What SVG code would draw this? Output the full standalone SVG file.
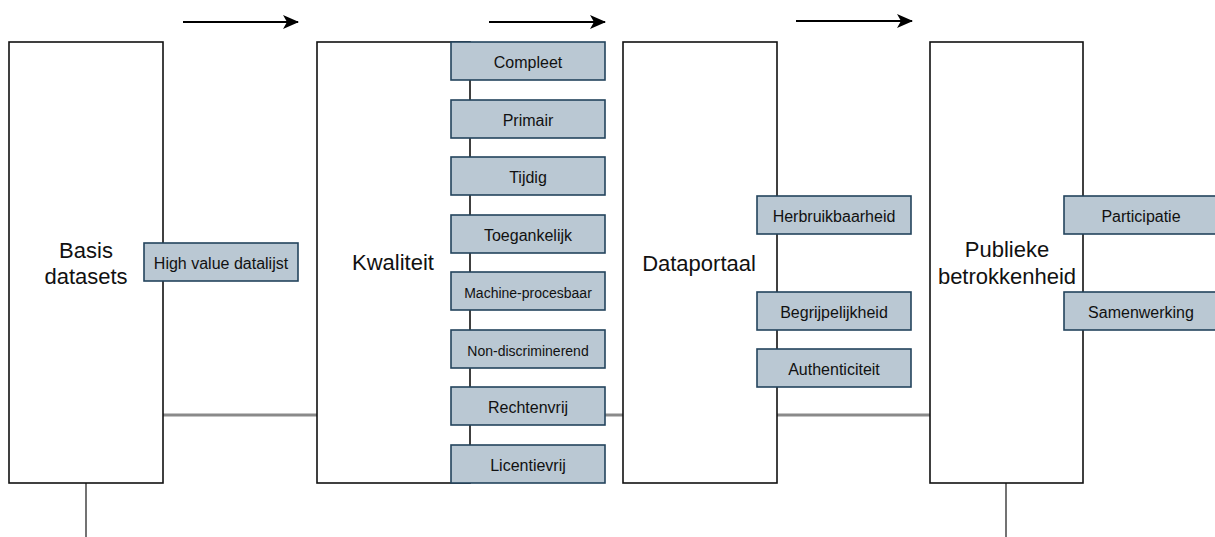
<svg xmlns="http://www.w3.org/2000/svg" width="1215" height="537" viewBox="0 0 1215 537">
<style>
.box{fill:#fff;stroke:#111;stroke-width:1.6}
.tag{fill:#bac8d3;stroke:#23445d;stroke-width:1.6}
.big{font-family:"Liberation Sans",Arial,sans-serif;font-size:22px;fill:#111;text-anchor:middle}
.t{font-family:"Liberation Sans",Arial,sans-serif;font-size:16px;fill:#111;text-anchor:middle}
.ts{font-family:"Liberation Sans",Arial,sans-serif;font-size:14px;fill:#111;text-anchor:middle}
.gray{stroke:#8a8a8a;stroke-width:3;fill:none}
.thin{stroke:#444;stroke-width:1.5;fill:none}
.arr{stroke:#000;stroke-width:2;fill:none}
</style>
<defs>
<marker id="ah" markerWidth="16" markerHeight="14" refX="15" refY="7" orient="auto" markerUnits="userSpaceOnUse" viewBox="0 0 16 14">
<path d="M0,0 L16,7 L0,14 L4,7 Z" fill="#000"/>
</marker>
</defs>
<g id="connectors">
<line class="arr" x1="183" y1="22" x2="298" y2="22" marker-end="url(#ah)"/>
<line class="arr" x1="489" y1="22" x2="605" y2="22" marker-end="url(#ah)"/>
<line class="arr" x1="796" y1="21" x2="912" y2="21" marker-end="url(#ah)"/>
<line class="gray" x1="163" y1="415" x2="317" y2="415"/>
<line class="gray" x1="605" y1="415" x2="623" y2="415"/>
<line class="gray" x1="777" y1="415" x2="930" y2="415"/>
<line class="thin" x1="86" y1="483" x2="86" y2="537"/>
<line class="thin" x1="1006" y1="483" x2="1006" y2="537"/>
</g>
<g id="basis">
<rect class="box" x="9" y="42" width="154" height="441"/>
<text class="big" x="86" y="258">Basis</text>
<text class="big" x="86" y="284">datasets</text>
</g>
<g id="kwaliteit">
<rect class="box" x="317" y="42" width="153" height="441"/>
<text class="big" x="393" y="270">Kwaliteit</text>
</g>
<g id="dataportaal">
<rect class="box" x="623" y="42" width="154" height="441"/>
<text class="big" x="699" y="271">Dataportaal</text>
</g>
<g id="publiek">
<rect class="box" x="930" y="42" width="153" height="441"/>
<text class="big" x="1007" y="257">Publieke</text>
<text class="big" x="1007" y="284">betrokkenheid</text>
</g>
<g id="tag-hvd"><rect class="tag" x="144" y="243" width="154" height="38"/><text class="t" x="221" y="269">High value datalijst</text></g>
<g id="tag-compleet"><rect class="tag" x="451" y="42" width="154" height="38"/><text class="t" x="528" y="68">Compleet</text></g>
<g id="tag-primair"><rect class="tag" x="451" y="100" width="154" height="38"/><text class="t" x="528" y="126">Primair</text></g>
<g id="tag-tijdig"><rect class="tag" x="451" y="157" width="154" height="38"/><text class="t" x="528" y="183">Tijdig</text></g>
<g id="tag-toegankelijk"><rect class="tag" x="451" y="215" width="154" height="38"/><text class="t" x="528" y="241">Toegankelijk</text></g>
<g id="tag-machine"><rect class="tag" x="451" y="272" width="154" height="38"/><text class="ts" x="528" y="297.5">Machine-procesbaar</text></g>
<g id="tag-nondisc"><rect class="tag" x="451" y="330" width="154" height="38"/><text class="ts" x="528" y="355.5">Non-discriminerend</text></g>
<g id="tag-rechtenvrij"><rect class="tag" x="451" y="387" width="154" height="38"/><text class="t" x="528" y="413">Rechtenvrij</text></g>
<g id="tag-licentievrij"><rect class="tag" x="451" y="445" width="154" height="38"/><text class="t" x="528" y="471">Licentievrij</text></g>
<g id="tag-herbruik"><rect class="tag" x="757" y="196" width="154" height="38"/><text class="t" x="834" y="222">Herbruikbaarheid</text></g>
<g id="tag-begrijp"><rect class="tag" x="757" y="292" width="154" height="38"/><text class="t" x="834" y="318">Begrijpelijkheid</text></g>
<g id="tag-authent"><rect class="tag" x="757" y="349" width="154" height="38"/><text class="t" x="834" y="375">Authenticiteit</text></g>
<g id="tag-particip"><rect class="tag" x="1064" y="196" width="154" height="38"/><text class="t" x="1141" y="222">Participatie</text></g>
<g id="tag-samenw"><rect class="tag" x="1064" y="292" width="154" height="38"/><text class="t" x="1141" y="318">Samenwerking</text></g>
</svg>
